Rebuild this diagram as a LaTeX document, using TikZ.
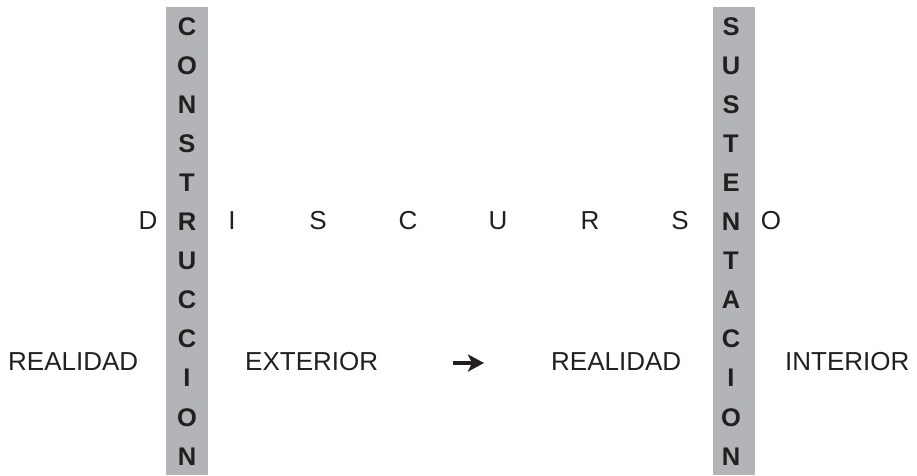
\documentclass[tikz,border=0pt]{standalone}
\usepackage{fontspec}
\setmainfont{Liberation Sans}
\usetikzlibrary{arrows.meta}
\definecolor{bargray}{RGB}{178,180,183}
\definecolor{ink}{RGB}{35,31,32}
\begin{document}
\begin{tikzpicture}[x=1pt,y=-1pt,
  txt/.style={anchor=base,inner sep=0pt,text=ink,font=\fontsize{26}{30}\selectfont},
  barletter/.style={anchor=base,inner sep=0pt,text=ink,font=\fontsize{25.5}{30}\selectfont\bfseries},
  barfill/.style={fill=bargray,draw=none}]
\useasboundingbox (0,0) rectangle (917,475);
% bars
\path[barfill] (166,7) rectangle (208,475);
\path[barfill] (713,7) rectangle (755,475);
% vertical words
\foreach \L [count=\i from 0] in {C,O,N,S,T,R,U,C,C,I,O,N}{
  \node[barletter] (c\i) at (187,35+39.1*\i) {\L};
}
\foreach \L [count=\i from 0] in {S,U,S,T,E,N,T,A,C,I,O,N}{
  \node[barletter] (s\i) at (731,35+39.1*\i) {\L};
}
% DISCURSO
\node[txt] (d1) at (148,229) {D};
\node[txt] (d2) at (232,229) {I};
\node[txt] (d3) at (318,229) {S};
\node[txt] (d4) at (408,229) {C};
\node[txt] (d5) at (498,229) {U};
\node[txt] (d6) at (590,229) {R};
\node[txt] (d7) at (680,229) {S};
\node[txt] (d8) at (771,229) {O};
% bottom row
\node[txt,anchor=base west] (re) at (8,370) {REALIDAD};
\node[txt,anchor=base west] (ex) at (245,370) {EXTERIOR};
\node[txt,anchor=base west] (ri) at (551,370) {REALIDAD};
\node[txt,anchor=base west] (in) at (785,370) {INTERIOR};
\coordinate (a1) at (453,363);
\coordinate (a2) at (484,363);
\draw[ink,line width=4pt,-{Stealth[length=16pt,width=17pt,inset=4pt]}] (a1) -- (a2);
\end{tikzpicture}
\end{document}
